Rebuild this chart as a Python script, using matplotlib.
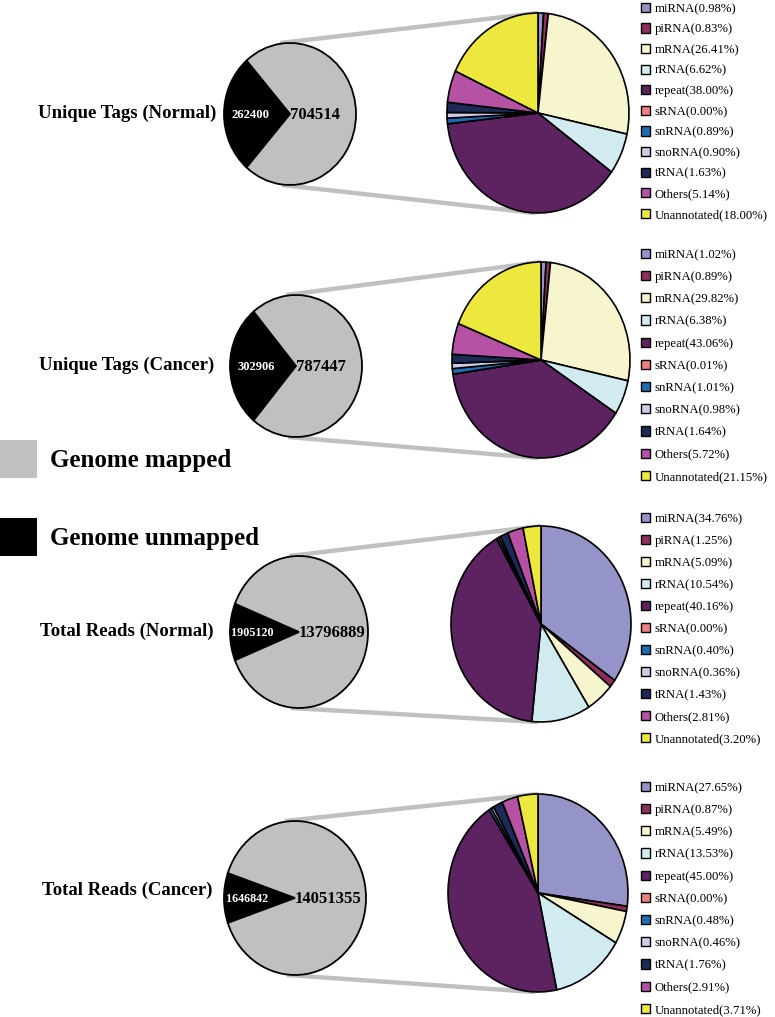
import matplotlib
matplotlib.use("Agg")
import matplotlib.pyplot as plt
from matplotlib.patches import Patch
from matplotlib.lines import Line2D

# ---------------- data ----------------
categories = ['miRNA', 'piRNA', 'mRNA', 'rRNA', 'repeat', 'sRNA', 'snRNA',
              'snoRNA', 'tRNA', 'Others', 'Unannotated']
uniq_normal = [0.98, 0.83, 26.41, 6.62, 38.00, 0.00, 0.89, 0.90, 1.63, 5.14, 18.00]
uniq_cancer = [1.02, 0.89, 29.82, 6.38, 43.06, 0.01, 1.01, 0.98, 1.64, 5.72, 21.15]
reads_normal = [34.76, 1.25, 5.09, 10.54, 40.16, 0.00, 0.40, 0.36, 1.43, 2.81, 3.20]
reads_cancer = [27.65, 0.87, 5.49, 13.53, 45.00, 0.00, 0.48, 0.46, 1.76, 2.91, 3.71]

row_titles = ['Unique Tags (Normal)', 'Unique Tags (Cancer)',
              'Total Reads (Normal)', 'Total Reads (Cancer)']
mapped = [704514, 787447, 13796889, 14051355]
unmapped = [262400, 302906, 1905120, 1646842]
genome_labels = ['Genome mapped', 'Genome unmapped']

cat_colors = ['#9494c9', '#8e2f5d', '#f7f5cd', '#d2ebf0', '#5c2360', '#f08080',
              '#1f6cb0', '#cdcbe6', '#1c2a55', '#b552a4', '#ede83d']
mapped_color = '#c0c0c0'
unmapped_color = '#000000'

# ---------------- layout (pixels) ----------------
W, H = 775, 1017
small_geo = [(290, 114, 66, 71), (296, 366, 66, 71), (299, 632, 69, 76), (295, 898, 71, 77)]
big_geo = [(538, 113, 91, 100), (541, 360, 89, 98), (541, 624, 90, 98), (538, 893, 90, 99)]
title_y = [113, 365, 631, 890]
leg_first = [7, 253, 517, 786]
leg_space = [20.6, 22.2, 22.0, 22.2]
unm_x = [-0.6, -0.6, -0.67, -0.68]
unm_size = [9.2, 9.0, 8.7, 8.7]

SERIF = ['Liberation Serif', 'DejaVu Serif']

fig = plt.figure(figsize=(W / 100, H / 100), dpi=100)
bg = fig.add_axes([0, 0, 1, 1])
bg.set_xlim(0, W)
bg.set_ylim(H, 0)
bg.axis('off')

M = 1.04


def pie_axes(cx, cy, rx, ry):
    ax = fig.add_axes([(cx - rx * M) / W, 1 - (cy + ry * M) / H,
                       2 * rx * M / W, 2 * ry * M / H])
    return ax


datasets = [uniq_normal, uniq_cancer, reads_normal, reads_cancer]

for i in range(4):
    scx, scy, srx, sry = small_geo[i]
    bcx, bcy, brx, bry = big_geo[i]
    # connector lines (behind pies)
    bg.add_line(Line2D([scx - 10, bcx], [scy - sry, bcy - bry],
                       color='#c0c0c0', lw=3.2, solid_capstyle='butt', zorder=1))
    bg.add_line(Line2D([scx - 8, bcx - 3], [scy + sry, bcy + bry],
                       color='#c0c0c0', lw=3.2, solid_capstyle='butt', zorder=1))
    # row title
    bg.text(127, title_y[i], row_titles[i], ha='center', va='center',
            fontsize=13.5, fontweight='bold', family=SERIF)

    # small pie
    ax = pie_axes(scx, scy, srx, sry)
    frac = unmapped[i] / (unmapped[i] + mapped[i]) * 360
    ax.pie([unmapped[i], mapped[i]], colors=[unmapped_color, mapped_color],
           startangle=180 - frac / 2, counterclock=True,
           wedgeprops=dict(edgecolor='black', linewidth=1.3))
    ax.set_aspect('auto')
    ax.set_xlim(-M, M)
    ax.set_ylim(-M, M)
    ax.text(unm_x[i], -0.01, f'{unmapped[i]}', color='white', ha='center', va='center',
            fontsize=unm_size[i], fontweight='bold', family=SERIF)
    ax.text(0.0, -0.01, f'{mapped[i]}', color='black', ha='left', va='center',
            fontsize=12, fontweight='bold', family=SERIF)

    # big pie
    axb = pie_axes(bcx, bcy, brx, bry)
    wedges, _ = axb.pie(datasets[i], colors=cat_colors, startangle=90, counterclock=False,
                        wedgeprops=dict(edgecolor='black', linewidth=1.2))
    axb.set_aspect('auto')
    axb.set_xlim(-M, M)
    axb.set_ylim(-M, M)

    labels = [f'{c}({v:.2f}%)' for c, v in zip(categories, datasets[i])]
    fs_pt = 9.2
    fs = fs_pt * 100 / 72
    ls = (leg_space[i] - fs * 0.94) / fs
    top = leg_first[i] - fs * 0.33
    leg = fig.legend(wedges, labels, loc='upper left',
                     bbox_to_anchor=(641 / W, 1 - top / H), bbox_transform=fig.transFigure,
                     frameon=False, borderpad=0, borderaxespad=0,
                     handlelength=0.72, handleheight=0.72, handletextpad=0.35,
                     labelspacing=ls, prop=dict(family=SERIF, size=fs_pt))
    for h in leg.legend_handles:
        h.set_linewidth(1.0)

# genome legend
ghandles = [Patch(facecolor=mapped_color, edgecolor='none'),
            Patch(facecolor=unmapped_color, edgecolor='none')]
gfs = 25
fig.legend(ghandles, genome_labels, loc='upper left',
           bbox_to_anchor=(0, 1 - 440 / H), bbox_transform=fig.transFigure,
           frameon=False, borderpad=0, borderaxespad=0,
           handlelength=37 / gfs, handleheight=49 / gfs, handletextpad=13 / gfs,
           labelspacing=40 / gfs,
           prop=dict(family=SERIF, size=gfs * 0.72, weight='bold'))

fig.savefig('out.png', dpi=100)
